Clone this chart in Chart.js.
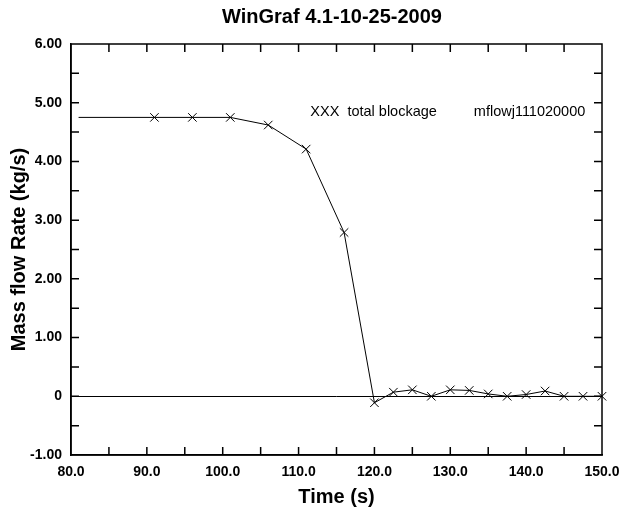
<!DOCTYPE html>
<html>
<head>
<meta charset="utf-8">
<script src="https://cdn.jsdelivr.net/npm/chart.js@4/dist/chart.umd.min.js"></script>
<style>
  html, body { margin: 0; padding: 0; background: #fff; }
  #wrap { width: 624px; height: 513px; position: relative; }
</style>
</head>
<body>
<div id="wrap"><canvas id="c" width="624" height="513"></canvas></div>
<script>
const chartTitle = 'WinGraf 4.1-10-25-2009';
const xAxisTitle = 'Time (s)';
const yAxisTitle = 'Mass flow Rate (kg/s)';
const annotationLeft = 'XXX  total blockage';
const annotationRight = 'mflowj111020000';

const timeValues = [81, 91, 96, 101, 106, 111, 116, 120, 122.5, 125, 127.5, 130, 132.5, 135, 137.5, 140, 142.5, 145, 147.5, 150];
const flowValues = [4.75, 4.75, 4.75, 4.75, 4.62, 4.21, 2.79, -0.11, 0.07, 0.11, 0.0, 0.11, 0.10, 0.04, 0.0, 0.03, 0.09, 0.0, 0.0, 0.0];
const markerShown = [false, true, true, true, true, true, true, true, true, true, true, true, true, true, true, true, true, true, true, true];

const xMin = 80, xMax = 150, xStep = 5, xLabelEvery = 10;
const yMin = -1, yMax = 6, yStep = 0.5;

const points = timeValues.map((t, i) => ({ x: t, y: flowValues[i] }));

const TICK_FONT = { family: '"Liberation Sans", Arial, sans-serif', size: 14, weight: 'bold' };
const TITLE_FONT = { family: '"Liberation Sans", Arial, sans-serif', size: 20, weight: 'bold' };

const framePlugin = {
  id: 'frameAndTicks',
  afterDatasetsDraw(chart) {
    const ctx = chart.ctx;
    const a = chart.chartArea;
    const xs = chart.scales.x, ys = chart.scales.y;
    const tl = 8;
    ctx.save();
    ctx.strokeStyle = '#000';
    ctx.lineWidth = 1.5;
    ctx.strokeRect(a.left, a.top, a.right - a.left, a.bottom - a.top);
    ctx.beginPath();
    xs.ticks.forEach(t => {
      const px = xs.getPixelForValue(t.value);
      if (t.value === xMin || t.value === xMax) return;
      ctx.moveTo(px, a.bottom); ctx.lineTo(px, a.bottom - tl);
      ctx.moveTo(px, a.top); ctx.lineTo(px, a.top + tl);
    });
    ys.ticks.forEach(t => {
      const py = ys.getPixelForValue(t.value);
      if (t.value === yMin || t.value === yMax) return;
      ctx.moveTo(a.left, py); ctx.lineTo(a.left + tl, py);
      ctx.moveTo(a.right, py); ctx.lineTo(a.right - tl, py);
    });
    ctx.stroke();
    ctx.restore();
  },
  afterDraw(chart) {
    const ctx = chart.ctx;
    const xs = chart.scales.x, ys = chart.scales.y;
    ctx.save();
    ctx.fillStyle = '#000';
    ctx.font = 'bold 20px "Liberation Sans", Arial, sans-serif';
    ctx.textAlign = 'center';
    ctx.textBaseline = 'middle';
    ctx.fillText(chartTitle, 332, 17);
    ctx.font = '14.5px "Liberation Sans", Arial, sans-serif';
    ctx.textAlign = 'left';
    ctx.textBaseline = 'alphabetic';
    const ty = ys.getPixelForValue(4.77);
    ctx.fillText(annotationLeft, xs.getPixelForValue(111.55), ty);
    ctx.fillText(annotationRight, xs.getPixelForValue(133.1), ty);
    ctx.restore();
  }
};

new Chart(document.getElementById('c'), {
  type: 'line',
  data: {
    datasets: [{
      data: points,
      borderColor: '#000',
      borderWidth: 1,
      backgroundColor: '#000',
      pointStyle: 'crossRot',
      pointRadius: markerShown.map(m => m ? 6 : 0),
      pointBorderWidth: 1,
      pointBorderColor: '#000',
      tension: 0,
      fill: false,
      clip: false
    }]
  },
  options: {
    responsive: false,
    animation: false,
    events: [],
    layout: { padding: { top: 44, right: 22, left: 0, bottom: 0 } },
    plugins: { legend: { display: false }, title: { display: false }, tooltip: { enabled: false } },
    scales: {
      x: {
        type: 'linear',
        min: xMin, max: xMax,
        afterFit(s) { s.height = 58; s.paddingLeft = 0; s.paddingRight = 0; },
        ticks: {
          stepSize: xStep,
          autoSkip: false,
          maxRotation: 0,
          padding: 9,
          color: '#000',
          font: TICK_FONT,
          callback: v => (v % xLabelEvery === 0 ? v.toFixed(1) : '')
        },
        grid: { drawOnChartArea: false, drawTicks: false },
        border: { display: true, color: '#000', width: 1.5 },
        title: { display: true, text: xAxisTitle, color: '#000', font: TITLE_FONT, padding: { top: 0, bottom: 4 } }
      },
      y: {
        type: 'linear',
        min: yMin, max: yMax,
        afterFit(s) { s.width = 71; s.paddingTop = 0; s.paddingBottom = 0; },
        ticks: {
          stepSize: yStep,
          autoSkip: false,
          padding: 9,
          color: '#000',
          font: TICK_FONT,
          callback: v => (Number.isInteger(v) ? (v === 0 ? '0' : v.toFixed(2)) : '')
        },
        grid: {
          drawTicks: false,
          color: c => (c.tick && c.tick.value === 0 ? '#000' : 'rgba(0,0,0,0)'),
          lineWidth: 1
        },
        border: { display: true, color: '#000', width: 1.5 },
        title: { display: true, text: yAxisTitle, color: '#000', font: TITLE_FONT, padding: { top: 7, bottom: 0 } }
      }
    }
  },
  plugins: [framePlugin]
});
</script>
</body>
</html>
